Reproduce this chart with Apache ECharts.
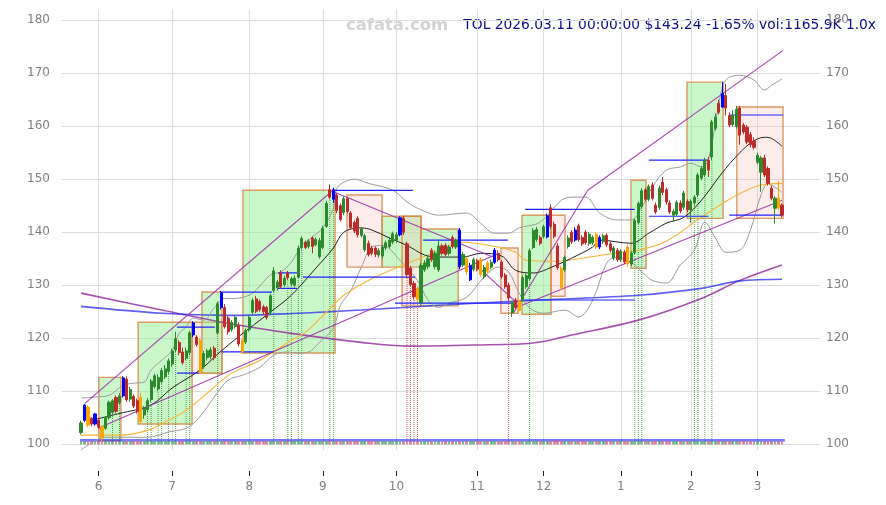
<!DOCTYPE html>
<html><head><meta charset="utf-8">
<script src="https://cdn.jsdelivr.net/npm/echarts@6/dist/echarts.min.js"></script>
<style>html,body{margin:0;padding:0;background:#fff}#c{width:886px;height:505px}</style>
</head><body><div id="c"></div>
<script>
// ---------- data ----------
const monthTickIdx = [5,26,48,69,90,113,132,154,174,193];
const monthLabels = ['6','7','8','9','10','11','12','1','2','3'];
const yTicks = [100,110,120,130,140,150,160,170,180];

const opens = [
102.2,104.5,107.0,104.9,103.8,104.5,103.3,103.0,105.0,106.0,
108.8,107.8,109.1,112.3,108.5,109.0,108.2,108.8,105.5,106.5,
108.4,110.9,110.4,111.8,112.7,113.7,115.1,117.8,119.2,117.4,
116.2,117.3,120.6,120.2,119.6,114.6,116.3,116.5,118.1,121.0,
125.8,125.8,123.8,121.6,122.2,122.4,119.5,119.3,121.6,124.9,
127.4,126.9,125.9,125.8,124.9,129.0,129.5,132.3,130.1,132.3,
130.2,130.0,131.5,137.1,138.1,137.3,138.9,137.6,135.4,137.1,
141.1,148.0,146.2,147.0,145.0,143.7,146.3,143.6,141.8,142.6,
139.4,136.7,137.9,137.0,137.0,135.7,135.5,137.0,137.3,138.1,
138.5,139.5,142.6,137.8,133.2,130.3,129.3,126.7,132.9,133.5,
136.6,133.5,132.9,137.4,137.5,136.0,139.0,137.2,140.4,133.8,
135.0,131.0,133.0,134.6,134.8,131.6,134.2,133.4,134.3,136.0,
134.3,131.9,130.0,124.8,127.2,127.0,127.3,129.7,131.2,137.1,
138.6,139.0,139.2,139.1,144.6,141.5,137.4,133.2,132.9,137.3,
140.0,138.5,141.2,139.0,140.0,137.8,138.0,139.6,137.2,138.2,
139.4,137.8,135.1,136.6,134.8,136.2,137.2,134.0,136.1,141.8,
144.8,148.0,146.2,148.9,145.1,144.7,149.4,148.0,145.5,143.2,
143.4,145.5,144.7,145.8,144.2,145.5,147.0,150.2,150.8,153.6,
154.2,159.6,164.3,163.6,165.8,162.0,160.3,159.9,163.4,160.2,
159.8,158.4,157.2,153.2,151.3,154.0,152.0,148.3,144.5,146.4,
145.1];
const closes = [
104.0,107.4,103.6,103.8,105.7,103.2,101.2,105.0,107.9,108.2,
106.2,109.1,112.5,108.4,110.3,107.2,106.2,104.3,106.8,108.2,
111.9,112.9,112.6,113.9,114.2,115.7,117.6,119.9,117.3,115.4,
117.6,121.0,122.9,118.8,113.6,117.1,117.6,117.8,116.3,126.5,
128.6,122.2,121.2,123.0,123.9,118.9,117.4,121.4,123.9,127.1,
125.1,125.4,125.0,123.9,128.0,132.7,130.6,129.7,131.3,131.4,
131.2,131.3,137.0,138.8,137.1,138.3,137.3,138.6,138.4,140.7,
145.4,146.6,148.0,144.1,142.4,146.3,143.9,140.9,140.2,139.5,
140.6,139.3,135.8,136.0,135.8,136.5,137.2,138.0,138.5,139.7,
139.5,142.7,140.0,132.0,130.1,127.8,127.3,133.7,134.2,135.0,
134.8,136.0,137.4,136.0,135.8,137.2,137.3,138.4,133.5,135.8,
132.5,133.7,134.8,133.0,132.0,133.3,132.6,134.3,136.6,134.8,
131.6,129.7,127.6,126.7,125.8,125.2,131.4,131.8,136.5,140.3,
140.5,137.9,141.0,143.1,141.1,139.2,133.3,129.5,135.2,138.9,
138.2,140.4,138.6,137.8,138.0,139.6,139.0,137.2,139.0,139.3,
137.6,136.6,137.0,134.8,136.4,134.4,134.0,136.0,142.2,145.4,
147.8,146.2,148.6,146.4,143.8,148.3,147.5,145.7,143.8,143.9,
145.6,144.0,147.4,144.2,145.8,146.6,150.8,152.0,153.6,151.7,
160.8,161.7,162.6,166.2,163.4,160.2,162.0,163.2,158.3,158.9,
157.0,156.5,156.0,154.5,154.0,150.8,149.2,146.4,146.4,144.6,
143.24];
const lows = [
101.8,104.2,103.2,103.4,103.5,102.9,100.4,102.7,104.6,105.6,
105.8,107.4,108.8,108.0,108.0,106.8,105.8,103.9,104.8,106.0,
108.0,110.5,110.0,111.4,112.3,113.2,114.6,117.3,116.8,115.0,
115.8,116.8,120.2,118.4,113.2,114.2,115.8,116.0,115.8,120.6,
125.4,121.8,120.7,121.2,121.8,118.4,117.0,118.9,121.2,124.5,
124.7,125.0,124.5,123.5,124.5,128.7,129.0,129.3,129.7,131.0,
129.8,129.6,131.2,136.7,136.8,136.9,136.0,137.3,135.0,136.8,
140.8,146.2,145.5,143.6,142.0,143.2,143.5,140.5,139.8,139.0,
139.0,136.3,135.4,135.6,135.3,135.2,135.0,136.6,136.9,137.7,
138.0,139.2,139.5,131.5,129.7,127.3,126.9,126.3,132.5,133.0,
134.4,133.0,132.5,135.6,135.4,135.6,136.9,136.8,133.0,133.4,
132.0,130.8,132.6,132.6,131.6,131.2,132.2,133.0,134.0,134.4,
131.2,129.3,127.2,124.0,125.4,124.6,126.9,129.3,130.8,136.8,
138.2,137.5,138.8,138.8,140.7,138.8,132.9,129.0,132.5,136.9,
137.8,138.2,138.2,137.4,137.6,137.4,137.6,136.8,136.8,137.8,
137.2,136.2,134.7,134.4,134.4,134.0,133.4,133.6,135.8,141.4,
144.4,145.8,145.8,146.0,143.4,144.2,147.0,145.2,143.4,142.0,
143.0,143.6,144.2,143.8,141.8,145.0,146.6,149.8,150.4,150.4,
153.6,159.2,162.2,163.4,162.0,159.8,159.9,159.5,156.5,158.5,
156.6,156.0,155.6,152.8,147.6,150.4,148.8,146.0,141.6,144.2,
142.8];
const highs = [
104.4,107.6,107.3,105.1,105.9,104.7,103.5,105.3,108.2,108.5,
109.2,109.6,112.8,112.8,110.8,109.4,108.6,109.6,107.2,108.7,
112.3,113.3,113.2,114.4,114.9,116.2,118.0,121.2,119.6,118.2,
118.2,121.4,123.2,120.6,120.0,117.6,118.0,118.3,118.5,126.9,
128.9,126.4,124.2,123.4,124.3,123.0,119.8,121.8,124.3,127.6,
128.0,127.3,126.3,126.1,128.4,133.4,131.0,132.8,131.8,132.7,
131.6,131.8,137.5,139.2,138.4,138.7,139.2,139.0,138.9,141.2,
145.9,149.0,148.4,147.4,145.4,146.8,146.6,144.0,142.2,143.0,
141.0,139.7,138.4,137.4,137.3,137.0,137.6,138.4,139.0,140.1,
140.0,143.0,143.0,138.2,133.6,130.8,129.8,134.2,134.7,135.5,
137.0,136.5,138.5,137.8,137.9,137.6,139.4,138.8,140.8,136.3,
135.4,134.2,135.2,135.0,135.2,133.8,134.6,134.8,137.0,136.6,
134.7,132.3,130.5,127.0,127.6,127.4,131.8,132.2,136.9,140.8,
141.0,139.4,141.4,143.5,145.2,142.0,137.9,133.6,135.6,139.4,
140.4,140.9,141.6,139.4,140.4,140.0,139.4,140.0,139.4,139.7,
139.8,138.2,137.4,137.0,136.8,136.6,137.6,136.4,142.6,145.8,
148.3,148.4,149.0,149.4,145.6,148.8,150.4,148.4,146.0,144.4,
146.0,146.0,147.8,146.2,146.2,147.0,151.2,152.5,154.0,154.2,
161.2,162.4,165.0,168.3,168.0,162.6,163.0,163.8,163.8,160.6,
160.2,158.9,157.9,155.0,154.4,154.6,152.4,148.8,146.8,149.6,
145.4];
const blueIdx = [1,4,12,32,40,72,91,108,111,118,133,141,148,183];
const orangeIdx = [2,6,17,34,46,96,110,114,116,125,137,147,156,199];
// volume strip heights (tenths of a price unit), one digit per day
const volLevels = ('5555556555'+'5555555557'+'5555555555'+'5555555555'+'5555555555'+
  '5555555565'+'5655555555'+'5555555555'+'5555555555'+'5555555555'+'5555555555'+
  '5555555555'+'5555555555'+'5565578555'+'5557555555'+'5555655555'+'5555555555'+
  '5555555555'+'5565555555'+'5555555555'+'5');

// indicator lines, [dayIndex, value]
const blackLine = [[3,104.5],[11,105.8],[20,107.4],[26,110.6],[34,114],[39,117],[45,120.3],[54,124.9],[60,128.1],[67,133.2],[72,137],[75,140],[80,140.8],[83,140.4],[88,138.9],[93,137.5],[98,135.7],[102,135.3],[109,135.3],[114,136],[120,135.5],[124,132.8],[129,132.3],[135,133.6],[140,135.1],[146,137.2],[148,138.5],[157,137.9],[162,139.8],[167,141.7],[172,142.8],[177,146],[182,150.4],[186,153.6],[191,156.8],[195,157.9],[197,157.7],[200,156.2]];
const orangeLine = [[0,101.7],[11,101.7],[19,102.6],[25,104.5],[30,106.4],[36,109.6],[43,113.4],[51,115.8],[60,119.6],[64,121.1],[70,124.9],[75,128.1],[82,130.9],[92,133.8],[99,135.7],[109,138.1],[119,137.2],[124,136.2],[127,134.7],[135,134.5],[145,135.3],[152,136],[159,136.6],[167,138.3],[177,142.8],[186,146.6],[194,148.9],[200,149.2]];
const upperBand = [[0,108.7],[4,108.9],[8,109.2],[12,111.1],[15,111.5],[18,111.7],[20,114],[23,115.8],[26,117.7],[28,120.9],[30,122.1],[32,123.8],[35,123.4],[38,125.7],[41,127.5],[44,127.5],[48,128.1],[50,129.1],[54,131.9],[57,132.5],[60,134.3],[63,137.5],[66,139.1],[69,140.8],[72,144.5],[73,148.3],[75,149.4],[78,150],[82,149.2],[89,147.9],[93,145.7],[97,144.2],[102,143.2],[110,143.6],[114,141.7],[118,139.8],[122,139.8],[125,140.8],[131,141.9],[137,146],[140,146.6],[144,146.6],[148,143.6],[153,142.3],[157,142.3],[160,144.7],[163,148.5],[167,151.7],[171,152.3],[174,153],[177,152.3],[179,153.6],[182,164.3],[184,168.7],[188,169.6],[192,168.7],[195,166.8],[197,167.7],[200,168.9]];
const lowerBand = [[0,98.9],[3,100.2],[7,101.3],[13,101.3],[19,101.3],[25,102.3],[30,103],[33,104.5],[36,107],[39,109.8],[42,112.1],[46,113],[51,114.5],[55,116.8],[59,117.4],[62,117.2],[65,117.4],[68,119.2],[72,121.9],[74,126.2],[77,129],[80,133.4],[83,137.2],[86,137.5],[91,134.7],[96,130.9],[99,127.2],[102,125.8],[105,126.6],[110,127.7],[115,131.5],[119,133.4],[122,132.5],[125,128.5],[128,125.7],[132,124.7],[138,125.3],[142,124],[146,127.2],[150,134.2],[153,135.3],[157,134.3],[160,132.5],[163,130.9],[167,130.4],[171,133.8],[175,136.6],[178,141.9],[181,138.9],[184,136.2],[188,136.6],[191,140.4],[194,147],[196,149.1],[200,147.5]];
const purpleCurve = [[0,128.5],[23,125.3],[42,122.8],[60,120.9],[80,119.2],[93,118.5],[112,118.7],[129,119.1],[140,120.6],[159,123.4],[177,127.5],[188,130.9],[200,133.8]];
const blueCurve = [[0,126],[23,124.7],[42,124.3],[62,124.7],[80,125.3],[102,126.2],[131,127.2],[159,128.1],[177,129.4],[188,130.8],[200,131.1]];
// straight trend lines [x1,y1,x2,y2]
const trendLines = [[1.1,107.7,71.9,147.9],[144.6,147.9,200.3,174.3],[123.3,124.7,144.6,147.9],[4.9,103,118.7,135.9],[125.8,126.2,200,146],[72.5,147.5,117.5,135.3],[114,133,124.4,126.6]];
// horizontal level segments [value, x1, x2]
const levelLines = [[122.1,27.4,38.2],[113.4,27.4,34],[128.7,40.2,54.5],[117.4,40.2,54.8],[132.3,56.2,61.6],[129.4,56.2,61.6],[131.5,63.3,95.3],[147.9,72.5,94.7],[138.5,97.6,121.8],[126.6,89.6,124.4],[127.2,126,158],[144.3,126.7,158],[153.6,162,179],[143,162,179],[162.1,185,200.3],[143.2,185,200.3]];
const baseLines = [[100.82,-0.3,200.8],[100.6,-0.3,200.8]];
// zones [x1, x2, low, high, kind]  kind: 1 green, 0 pink
const zones = [[5.1,11.4,100.7,112.6,1],[16.3,31.7,103.8,123.0,1],[31.7,40.2,113.4,123.0,0],[34.5,40.2,113.4,128.7,1],[46.2,72.5,117.2,147.9,1],[75.9,85.9,133.4,147.0,0],[85.9,97,133.4,143.0,1],[91.6,97,126.1,143.0,0],[97,107.6,126.1,140.6,1],[119.8,124.7,124.7,137.0,0],[125.8,134.1,124.5,143.2,1],[134.1,138.1,127.9,143.2,0],[156.9,161.2,133.2,149.8,1],[172.9,183.2,142.6,168.3,1],[187.1,200.3,142.6,163.6,0]];
const greenDotIdx = [9,11,19,20,22,23,25,27,30,31,39,55,59,60,62,63,71,72,128,158,159,160,175,176,178,180];
const redDotIdx = [93,94,95,96,122];

// ---------- chart ----------
const GREEN='#2b8a2b', RED='#bd2b2b', BLUE='#0000ff', ORANGE='#ffa500';
const chart = echarts.init(document.getElementById('c'), null, {renderer:'canvas'});
const candleData = opens.map((o,i)=>{
  const item = {value:[i,o,closes[i],lows[i],highs[i]]};
  let col = blueIdx.includes(i) ? BLUE : (orangeIdx.includes(i) ? ORANGE : null);
  if (col) item.itemStyle = {color:col,color0:col,borderColor:col,borderColor0:col};
  return item;
});
const volData = opens.map((o,i)=>{
  const h = Number(volLevels[i]||5)/10;
  const c = closes[i] >= o ? 'rgba(70,160,90,0.75)' : 'rgba(205,90,120,0.75)';
  return {value:[i,100,100+h,100,100+h], itemStyle:{color:c,color0:c,borderColor:c,borderColor0:c}};
});
const lineS = (data,color,width,z,smooth)=>({type:'line',data,showSymbol:false,smooth:smooth===undefined?0.35:smooth,
  lineStyle:{color,width},itemStyle:{color},z,silent:true,animation:false});
const segSeries = (list,color,width,z,dotted)=>list.map(s=>({type:'line',data:[[s[0],s[1]],[s[2],s[3]]],showSymbol:false,
  lineStyle:{color,width,type:dotted?'dotted':'solid'},itemStyle:{color},z,silent:true,animation:false}));

const series = [
  {type:'line',data:[],z:1,silent:true,
   markArea:{silent:true,data:zones.map(z=>[{xAxis:z[0],yAxis:z[2],itemStyle:{color:z[4]?'rgba(150,240,150,0.5)':'rgba(245,185,180,0.28)',borderColor:'rgba(215,130,60,0.8)',borderWidth:1.4}},{xAxis:z[1],yAxis:z[3]}])}},
  ...segSeries(greenDotIdx.map(i=>[i,100.6,i,lows[i]]),'rgba(40,150,40,0.85)',1,2,true),
  ...segSeries(redDotIdx.map(i=>[i,100.6,i,lows[i]]),'rgba(200,60,60,0.85)',1,2,true),
  {type:'candlestick',data:volData,barWidth:2.4,z:3,silent:true,itemStyle:{borderWidth:0.6}},
  ...segSeries(baseLines.map(l=>[l[1],l[0],l[2],l[0]]),'#3a3aff',1,3),
  lineS(purpleCurve,'rgba(150,50,160,0.85)',1.6,4),
  lineS(blueCurve,'rgba(40,40,240,0.75)',1.6,4),
  lineS(upperBand,'#9a9a9a',1,4),
  lineS(lowerBand,'#9a9a9a',1,4),
  lineS(orangeLine,'#f7b538',1.1,4),
  lineS(blackLine,'#222222',1,4),
  ...segSeries(trendLines,'rgba(160,50,170,0.9)',1.1,5),
  ...segSeries(levelLines.map(l=>[l[1],l[0],l[2],l[0]]),'#2222ff',1.2,5),
  {type:'candlestick',data:candleData,barWidth:2.6,z:6,silent:true,
   itemStyle:{color:GREEN,color0:RED,borderColor:GREEN,borderColor0:RED,borderWidth:1}}
];

const option = {
  animation:false,
  grid:{left:62,right:66,top:9,bottom:55,containLabel:false},
  xAxis:{type:'value',min:-5.42,max:210.84,offset:21,
    axisLine:{show:false},
    axisTick:{show:true,length:5,lineStyle:{color:'#222'},customValues:monthTickIdx},
    axisLabel:{color:'#808080',fontSize:12,fontFamily:'DejaVu Sans',margin:10,customValues:monthTickIdx,
      formatter:v=>monthLabels[monthTickIdx.indexOf(Math.round(v))]||''},
    splitLine:{show:true,lineStyle:{color:'#dddddd',width:1}}},
  yAxis:[
    {type:'value',min:98.9,max:182.1,position:'left',axisLine:{show:false},axisTick:{show:false,customValues:yTicks},
     axisLabel:{color:'#808080',fontSize:12,fontFamily:'DejaVu Sans',margin:12,customValues:yTicks},
     splitLine:{show:true,lineStyle:{color:'#dddddd',width:1}}},
    {type:'value',min:98.9,max:182.1,position:'right',axisLine:{show:false},axisTick:{show:false,customValues:yTicks},
     axisLabel:{color:'#808080',fontSize:12,fontFamily:'DejaVu Sans',margin:6,customValues:yTicks},
     splitLine:{show:false}}
  ],
  graphic:[
    {type:'text',left:346,top:18,style:{text:'cafata.com',fill:'#d4d4d4',font:'bold 16.4px "DejaVu Sans"'}},
    {type:'text',right:10,top:18,style:{text:'TOL 2026.03.11 00:00:00 $143.24 -1.65% vol:1165.9K 1.0x',fill:'#0b0b8c',font:'13.8px "DejaVu Sans"'}}
  ],
  series
};
chart.setOption(option);
</script>
</body></html>
